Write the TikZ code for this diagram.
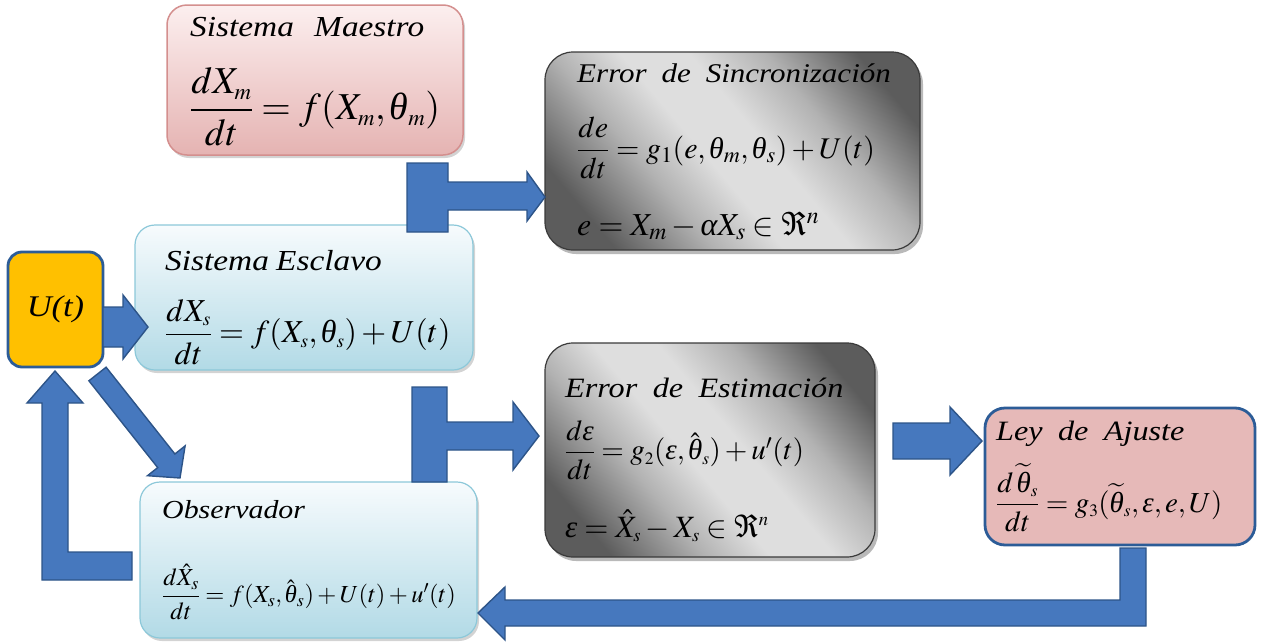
\documentclass[tikz,border=0pt]{standalone}
\usepackage{amsmath}
\usepackage{mathptmx}
\usepackage[no-math]{fontspec}
\setmainfont{Liberation Serif}
\newfontfamily\ttl{Liberation Serif}[FakeStretch=1.15]
\usepackage{graphicx}
\usetikzlibrary{shadows}
\newcommand{\wsp}{\hspace{0.55em}}
\newcommand{\gth}{\textit{θ}}
\newcommand{\gep}{\textit{ε}}
\newcommand{\gal}{\textit{α}}
\definecolor{arrfill}{HTML}{4678BE}
\definecolor{arrline}{HTML}{2D5488}
\definecolor{uorange}{HTML}{FFC000}
\definecolor{darkblue}{HTML}{2C5C97}
\definecolor{leypink}{HTML}{E6B9B8}
\definecolor{pinktop}{HTML}{FCEFEF}
\definecolor{pinkbot}{HTML}{E5B3B2}
\definecolor{pinkline}{HTML}{D48F8E}
\definecolor{bluetop}{HTML}{F7FBFD}
\definecolor{bluebot}{HTML}{B2DAE6}
\definecolor{blueline}{HTML}{8CC8D9}
\definecolor{graydark}{HTML}{5C5C5C}
\definecolor{graymid}{HTML}{B2B2B2}
\definecolor{graylight}{HTML}{DEDEDE}
\definecolor{grayline}{HTML}{3A3A3A}
\pgfdeclareverticalshading{grayband}{100bp}{color(0bp)=(graydark); color(24bp)=(graydark); color(37bp)=(graymid); color(46bp)=(graylight); color(55bp)=(graylight); color(65bp)=(graymid); color(77bp)=(graydark); color(100bp)=(graydark)}
\tikzset{
  basebox/.style={rectangle, inner sep=0pt, rounded corners=20pt},
  pinkbox/.style={basebox, draw=pinkline, line width=1.5pt, top color=pinktop, bottom color=pinkbot,
     drop shadow={shadow xshift=2pt, shadow yshift=-3pt, opacity=0.35}},
  bluebox/.style={basebox, draw=blueline, line width=1.2pt, top color=bluetop, bottom color=bluebot,
     drop shadow={shadow xshift=2pt, shadow yshift=-3pt, opacity=0.35}},
  graybox/.style={basebox, rounded corners=28pt, draw=grayline, line width=1.2pt,
     shading=grayband, shading angle=-50,
     drop shadow={shadow xshift=3pt, shadow yshift=-4pt, opacity=0.55}},
  ubox/.style={basebox, rounded corners=14pt, draw=darkblue, line width=2.8pt, fill=uorange},
  leybox/.style={basebox, rounded corners=20pt, draw=darkblue, line width=2.8pt, fill=leypink},
  blockarrow/.style={fill=arrfill, draw=arrline, line width=1.4pt, line join=miter},
  ttext/.style={inner sep=0pt, anchor=base west, font=\ttl\itshape},
  ftext/.style={inner sep=0pt, anchor=west},
}
\begin{document}
\begin{tikzpicture}[x=1pt,y=-1pt]
\useasboundingbox (0,0) rectangle (1262,643);
% boxes
\node[pinkbox, minimum width=296pt, minimum height=150pt] (maestro) at (315,80) {};
\node[graybox, minimum width=375pt, minimum height=198pt] (esync) at (732.5,151) {};
\node[ubox, minimum width=95pt, minimum height=115pt] (u) at (55.5,309.5) {};
\node[bluebox, minimum width=338pt, minimum height=145pt] (esclavo) at (304,297.5) {};
\node[graybox, minimum width=330pt, minimum height=214pt] (eest) at (710,450) {};
\node[leybox, minimum width=270pt, minimum height=137pt] (ley) at (1120,476.5) {};
\node[bluebox, minimum width=337pt, minimum height=156pt] (obs) at (308.5,560) {};
% texts
\node[inner sep=0pt, font=\ttl\itshape\fontsize{30}{32}\selectfont] (ut) at (u) {U(t)};
\node[ttext, font=\ttl\itshape\fontsize{29}{32}\selectfont] (tmaestro) at (190,36) {Sistema\hspace{0.7em}Maestro};
\node[ftext] (fmaestro) at (190,107) {\fontsize{38}{40}\selectfont$\dfrac{dX_{\scriptscriptstyle m}}{dt}=f(X_{\scriptscriptstyle m},\gth_{\scriptscriptstyle m})$};
\node[ttext, font=\ttl\itshape\fontsize{27}{29}\selectfont] (tsync) at (577,82) {Error\wsp de\wsp Sincronización};
\node[ftext] (fsync) at (577,148) {\fontsize{30}{32}\selectfont$\dfrac{de}{dt}=g_1(e,\gth_m,\gth_s)+U(t)$};
\node[inner sep=0pt, anchor=base west] (fsync2) at (577,235) {\fontsize{32}{34}\selectfont$e=X_m-\gal X_s\in\Re^n$};
\node[ttext, font=\ttl\itshape\fontsize{29}{31}\selectfont] (tesclavo) at (165,270) {Sistema\hspace{0.25em}Esclavo};
\node[ftext] (fesclavo) at (165,332) {\fontsize{32}{34}\selectfont$\dfrac{dX_{\scriptscriptstyle s}}{dt}=f(X_{\scriptscriptstyle s},\gth_{\scriptscriptstyle s})+U(t)$};
\node[ttext, font=\ttl\itshape\fontsize{28}{30}\selectfont] (test) at (565,397) {Error\wsp de\wsp Estimación};
\node[ftext] (fest) at (565,450) {\fontsize{29}{31}\selectfont$\dfrac{d\gep}{dt}=g_{\scriptscriptstyle 2}(\gep,\hat{\gth}_{\scriptscriptstyle s})+u'(t)$};
\node[inner sep=0pt, anchor=base west] (fest2) at (565,537) {\fontsize{31}{33}\selectfont$\gep=\hat{X}_{\scriptscriptstyle s}-X_{\scriptscriptstyle s}\in\Re^{\scriptscriptstyle n}$};
\node[ttext, font=\ttl\itshape\fontsize{28}{30}\selectfont] (tley) at (996,440) {Ley\wsp de\wsp Ajuste};
\node[ftext] (fley) at (996,498) {\fontsize{29}{31}\selectfont$\dfrac{d\,\widetilde{\gth}_{\scriptscriptstyle s}}{dt}=g_{\scriptscriptstyle 3}(\widetilde{\gth}_{\scriptscriptstyle s},\gep,e,U)$};
\node[ttext, font=\ttl\itshape\fontsize{26}{28}\selectfont] (tobs) at (162,518) {Observador};
\node[ftext] (fobs) at (162,592) {\fontsize{24.5}{26}\selectfont$\dfrac{d\hat{X}_s}{dt}=f(X_s,\hat{\gth}_s)+U(t)+u'(t)$};
% block arrows
\draw[blockarrow] (103,307) -- (123,307) -- (123,295) -- (148,327) -- (123,359) -- (123,347) -- (103,347) -- cycle;
\draw[blockarrow] (407,163) -- (448,163) -- (448,182) -- (527,182) -- (527,172) -- (545,197) -- (527,221) -- (527,210) -- (448,210) -- (448,232) -- (407,232) -- cycle;
\draw[blockarrow] (412,387) -- (447,387) -- (447,422) -- (513,422) -- (513,402) -- (539,436) -- (513,470) -- (513,450) -- (447,450) -- (447,482) -- (412,482) -- cycle;
\draw[blockarrow] (893,423) -- (950,423) -- (950,407) -- (982,441) -- (950,475) -- (950,459) -- (893,459) -- cycle;
\draw[blockarrow] (1120,548) -- (1146,548) -- (1146,626) -- (505,626) -- (505,640) -- (478,613) -- (505,587) -- (505,600) -- (1120,600) -- cycle;
\draw[blockarrow] (106.1,367.2) -- (174.9,454.0) -- (185.1,445.9) -- (180,478) -- (147.5,475.7) -- (157.7,467.6) -- (88.9,380.8) -- cycle;
\draw[blockarrow] (55,371) -- (83,403) -- (68,403) -- (68,552) -- (132,552) -- (132,580) -- (42,580) -- (42,403) -- (27,403) -- cycle;
\end{tikzpicture}
\end{document}
